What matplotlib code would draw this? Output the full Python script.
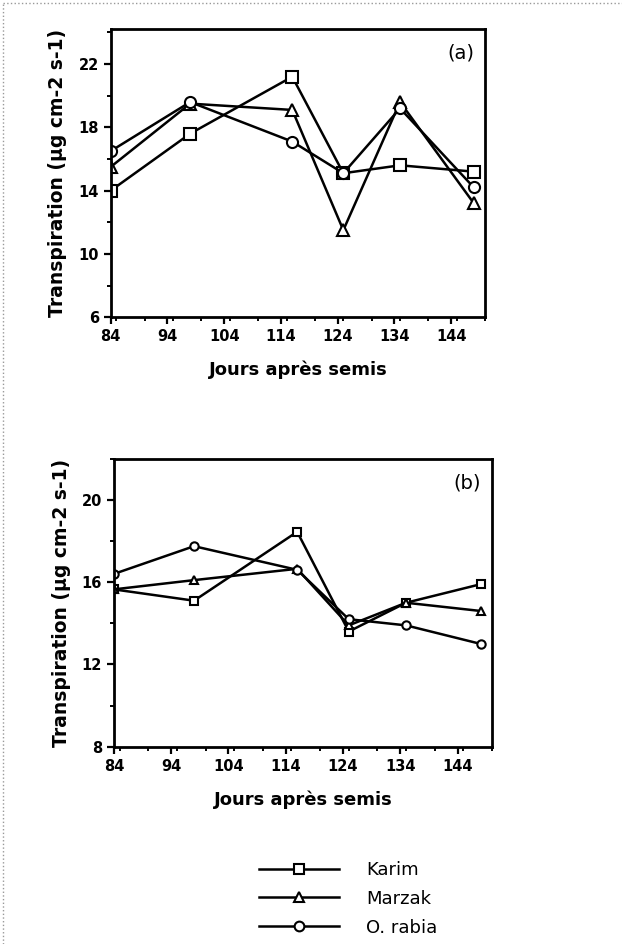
import matplotlib
matplotlib.use("Agg")
import matplotlib.pyplot as plt
from matplotlib.lines import Line2D
from matplotlib.ticker import MultipleLocator

# days after sowing
days = [84, 98, 116, 125, 135, 148]

# panel (a)
karim_a = [14.0, 17.6, 21.2, 15.1, 15.6, 15.2]
marzak_a = [15.5, 19.5, 19.1, 11.5, 19.6, 13.2]
rabia_a = [16.5, 19.6, 17.1, 15.1, 19.2, 14.2]

# panel (b)
karim_b = [15.65, 15.1, 18.45, 13.6, 15.0, 15.9]
marzak_b = [15.65, 16.1, 16.65, 13.9, 15.0, 14.6]
rabia_b = [16.4, 17.75, 16.6, 14.2, 13.9, 13.0]

varieties = ["Karim", "Marzak", "O. rabia"]
markers = ["s", "^", "o"]

x_ticks = [84, 94, 104, 114, 124, 134, 144]
ylabel = "Transpiration (µg cm-2 s-1)"
xlabel = "Jours après semis"

plt.rcParams['font.family'] = ['DejaVu Sans']

fig = plt.figure(figsize=(6.22, 9.44), dpi=100)
ax_a = fig.add_axes([0.178, 0.664, 0.602, 0.305])
ax_b = fig.add_axes([0.183, 0.209, 0.608, 0.305])


def style_axis(ax, ylim, yticks, tag, msize):
    series = {
        "a": [karim_a, marzak_a, rabia_a],
        "b": [karim_b, marzak_b, rabia_b],
    }[tag]
    for vals, mk, name in zip(series, markers, varieties):
        ax.plot(days, vals, color="black", lw=1.8, marker=mk, ms=msize,
                mfc="white", mec="black", mew=1.5, label=name)
    ax.set_xlim(84, 150)
    ax.set_ylim(*ylim)
    ax.set_xticks(x_ticks)
    ax.set_yticks(yticks)
    ax.xaxis.set_minor_locator(MultipleLocator(5))
    ax.yaxis.set_minor_locator(MultipleLocator(2))
    ax.tick_params(which="major", direction="out", length=5, width=1.6,
                   labelsize=10.5)
    ax.tick_params(which="minor", direction="out", length=3, width=1.4)
    for lab in ax.get_xticklabels() + ax.get_yticklabels():
        lab.set_fontweight("bold")
    for sp in ax.spines.values():
        sp.set_linewidth(2)
    ax.set_ylabel(ylabel, fontsize=13.5, fontweight="bold", labelpad=8)
    ax.set_xlabel(xlabel, fontsize=13, fontweight="bold", labelpad=12)
    ax.text(0.97, 0.95, f"({tag})", transform=ax.transAxes, ha="right",
            va="top", fontsize=14)


style_axis(ax_a, (6, 24.2), [6, 10, 14, 18, 22], "a", 8)
style_axis(ax_b, (8, 22), [8, 12, 16, 20], "b", 6)

handles = [Line2D([], [], color="black", lw=1.8, marker=m, ms=7, mfc="white",
                  mec="black", mew=1.5) for m in markers]
fig.legend(handles, varieties, loc="center", bbox_to_anchor=(0.56, 0.048),
           frameon=False, fontsize=13, handlelength=4.4, handletextpad=1.5,
           labelspacing=0.6)

# faint dotted scan border
fig.add_artist(Line2D([0.005, 0.005], [0, 0.997], transform=fig.transFigure,
                      color="0.6", lw=1, ls=":"))
fig.add_artist(Line2D([0.005, 1], [0.997, 0.997], transform=fig.transFigure,
                      color="0.6", lw=1, ls=":"))

fig.savefig("out.png", dpi=100)
